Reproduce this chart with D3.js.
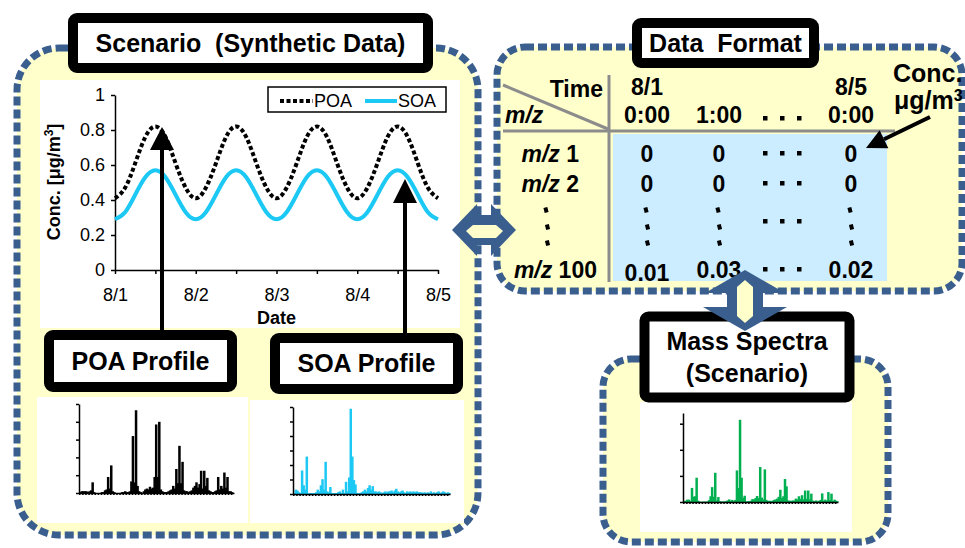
<!DOCTYPE html>
<html>
  <head>
    <meta charset="utf-8">
    <title>Scenario / data format / mass spectra</title>
    <script src="https://d3js.org/d3.v7.min.js" charset="utf-8"></script>
    <style>
      body { margin: 0; background: #fff; }
      svg { display: block; font-family: Arial, 'Liberation Sans', sans-serif; }
      .axis path, .axis line { stroke: black; stroke-width: 1.5; }
      .axis text { font-family: Arial, 'Liberation Sans', sans-serif; fill: black; }
    </style>
  </head>
  <body>
    <div id="chart"></div>
    <script>

    //********************
    // data
    //********************

    // synthetic time series, every 3 hours from 8/1 0:00 to 8/5 0:00
    var hours = [0,3,6,9,12,15,18,21,24,27,30,33,36,39,42,45,48,51,54,57,60,63,66,69,72,75,78,81,84,87,90,93,96];
    var poa = [0.41,0.47,0.61,0.76,0.82,0.76,0.61,0.47,
               0.41,0.47,0.61,0.76,0.82,0.76,0.61,0.47,
               0.41,0.47,0.61,0.76,0.82,0.76,0.61,0.47,
               0.41,0.47,0.61,0.76,0.82,0.76,0.61,0.47,0.41];
    var soa = [0.29,0.33,0.43,0.53,0.57,0.53,0.43,0.33,
               0.29,0.33,0.43,0.53,0.57,0.53,0.43,0.33,
               0.29,0.33,0.43,0.53,0.57,0.53,0.43,0.33,
               0.29,0.33,0.43,0.53,0.57,0.53,0.43,0.33,0.29];
    var dayLabels = ["8/1","8/2","8/3","8/4","8/5"];
    var yTicks = [0,0.2,0.4,0.6,0.8,1];

    // profiles, m/z 1..100 (relative to axis top)
    var poaProfile = [0.01,0.02,0.02,0.02,0.02,0.01,0.02,0.03,0.12,0.01,
                      0,0,0,0,0.01,0.01,0.03,0.04,0.18,0.05,
                      0.31,0.02,0.01,0,0,0,0,0.01,0.01,0.02,
                      0.01,0.01,0.02,0.13,0.64,0.12,0.93,0.08,0.02,0.01,
                      0,0.02,0.04,0.05,0.04,0.07,0.05,0.06,0.18,0.77,
                      0.18,0.80,0.04,0.02,0.01,0.01,0.01,0.02,0.03,0.04,
                      0.08,0.05,0.27,0.11,0.53,0.11,0.35,0.03,0.02,0.02,
                      0.01,0.02,0.03,0.06,0.08,0.12,0.06,0.10,0.25,0.05,
                      0.25,0.08,0.17,0.03,0.02,0.01,0.01,0.02,0.03,0.18,
                      0.04,0.08,0.05,0.23,0.06,0.18,0.02,0.02,0.01,0];
    var soaProfile = [0.01,0.05,0.04,0.02,0.01,0.27,0.10,0.05,0.43,0.01,
                      0.01,0.01,0.01,0.01,0.02,0.05,0.03,0.10,0.17,0.05,
                      0.37,0.03,0.02,0.08,0.01,0.01,0.01,0.01,0.02,0.03,
                      0.01,0.05,0.01,0.14,0.03,0.19,0.98,0.43,0.16,0.11,
                      0.01,0.01,0.01,0.02,0.03,0.05,0.03,0.07,0.10,0.05,
                      0.09,0.03,0.03,0.02,0.03,0.02,0.01,0.02,0.03,0.02,
                      0.03,0.03,0.04,0.02,0.04,0.06,0.03,0.02,0.03,0.04,
                      0.02,0.01,0.03,0.02,0.03,0.02,0.03,0.02,0.03,0.02,
                      0.02,0.02,0.01,0.02,0.01,0.02,0.01,0.03,0.01,0.02,
                      0.01,0.02,0.03,0.01,0.02,0.03,0.02,0.01,0.02,0.01];
    var mixProfile = [0.03,0.05,0.09,0.09,0.04,0.54,0.20,0.22,0.93,0.05,
                      0.01,0.01,0.01,0.02,0.01,0.02,0.07,0.22,0.57,0.20,
                      1.12,0.06,0.19,0.03,0.02,0.02,0.02,0.03,0.06,0.10,
                      0.04,0.08,0.03,0.08,1.21,0.54,3.15,0.93,0.16,0.24,
                      0.02,0.03,0.03,0.05,0.11,0.10,0.15,0.23,0.15,1.34,
                      0.17,0.10,1.25,0.08,0.04,0.05,0.03,0.05,0.08,0.10,
                      0.13,0.20,0.47,0.15,0.22,0.88,0.60,0.06,0.05,0.04,
                      0.06,0.05,0.13,0.10,0.22,0.12,0.26,0.10,0.44,0.12,
                      0.44,0.10,0.32,0.05,0.03,0.06,0.03,0.05,0.08,0.33,
                      0.05,0.09,0.05,0.38,0.07,0.32,0.04,0.09,0.05,0.02];

    // data format table
    var timeTop = ["8/1", "", "", "8/5"];
    var timeBottom = ["0:00", "1:00", "", "0:00"];
    var rowNames = ["1", "2", "", "100"];
    var cellValues = [["0","0","","0"], ["0","0","","0"], ["","","",""], ["0.01","0.03","","0.02"]];


    //********************
    // setup
    //********************

    var width = 965, height = 548;
    var panelFill = "#FFFFCC", panelStroke = "#3A5F8E";
    var cyan = "#1CC8F4", green = "#00B050";

    var svg = d3.select("#chart").append("svg").attr("width", width).attr("height", height);

    function panel(x, y, w, h, r) {
        svg.append("rect")
            .attr("x", x).attr("y", y).attr("width", w).attr("height", h).attr("rx", r)
            .attr("fill", panelFill)
            .attr("stroke", panelStroke)
            .attr("stroke-width", 7)
            .attr("stroke-dasharray", "9,4");
    }

    function whiteBox(x, y, w, h) {
        svg.append("rect").attr("x", x).attr("y", y).attr("width", w).attr("height", h).attr("fill", "white");
    }

    function titleBox(x, y, w, h, lines, baselines) {
        var g = svg.append("g");
        g.append("rect")
            .attr("x", x).attr("y", y).attr("width", w).attr("height", h).attr("rx", 4)
            .attr("fill", "white").attr("stroke", "black").attr("stroke-width", 10);
        lines.forEach(function(t, i) {
            g.append("text")
                .attr("x", x + w / 2).attr("y", baselines[i])
                .attr("text-anchor", "middle")
                .attr("font-weight", "bold")
                .attr("font-size", 25)
                .style("white-space", "pre")
                .text(t);
        });
    }

    function arrow(x1, y1, x2, y2, sw, headLen, headW, color) {
        var dx = x2 - x1, dy = y2 - y1, len = Math.sqrt(dx * dx + dy * dy);
        var ux = dx / len, uy = dy / len;
        var bx = x2 - ux * headLen, by = y2 - uy * headLen;
        svg.append("line").attr("x1", x1).attr("y1", y1).attr("x2", bx).attr("y2", by)
            .attr("stroke", color).attr("stroke-width", sw);
        svg.append("polygon")
            .attr("points", [[x2, y2], [bx - uy * headW / 2, by + ux * headW / 2], [bx + uy * headW / 2, by - ux * headW / 2]].join(" "))
            .attr("fill", color);
    }

    // mini bar chart of a mass spectrum
    function spectrum(vals, o) {
        var g = svg.append("g");
        var x = d3.scaleBand().domain(d3.range(1, vals.length + 1)).range([o.x0, o.x1]);
        var y = d3.scaleLinear().domain([0, o.max]).range([o.base, o.top]);
        g.selectAll("rect").data(vals).join("rect")
            .attr("x", (d, i) => x(i + 1))
            .attr("y", d => y(d))
            .attr("width", 2.5)
            .attr("height", d => o.base - y(d))
            .attr("fill", o.color);
        g.append("g").attr("class", "axis")
            .attr("transform", `translate(${o.x0},0)`)
            .call(d3.axisLeft(y).tickValues(o.ticks).tickSize(3).tickSizeOuter(0).tickFormat(""));
        g.append("g").attr("class", "axis")
            .attr("transform", `translate(0,${o.base})`)
            .call(d3.axisBottom(x).tickValues(d3.range(1, vals.length + 1, 2)).tickSize(2).tickSizeOuter(0).tickFormat(""));
        g.selectAll(".axis line").attr("stroke-width", 1);
    }


    //**************
    // panels
    //**************

    panel(17, 48, 461, 487, 42);
    panel(497, 47, 465, 244, 28);
    panel(603, 359, 285, 183, 28);

    whiteBox(40, 80, 420, 248);
    whiteBox(37, 397, 211, 126);
    whiteBox(250, 400, 214, 123);
    whiteBox(640, 402, 212, 130);


    //**************
    // line chart
    //**************

    var xScale = d3.scaleLinear().domain([0, 96]).range([115, 438]);
    var yScale = d3.scaleLinear().domain([0, 1]).range([270, 95]);

    var xAxis = svg.append("g").attr("class", "axis")
        .attr("transform", "translate(0,270)")
        .call(d3.axisBottom(xScale)
            .tickValues(d3.range(0, 97, 12))
            .tickSize(4).tickSizeOuter(0).tickPadding(14)
            .tickFormat(h => h % 24 === 0 ? dayLabels[h / 24] : ""));
    xAxis.selectAll("text").attr("font-size", 18);

    var yAxis = svg.append("g").attr("class", "axis")
        .attr("transform", "translate(115,0)")
        .call(d3.axisLeft(yScale)
            .tickValues(yTicks)
            .tickSize(4).tickSizeOuter(0).tickPadding(6)
            .tickFormat(d3.format(".1~f")));
    yAxis.selectAll("text").attr("font-size", 18);

    var ylab = svg.append("text")
        .attr("transform", "translate(60,182) rotate(-90)")
        .attr("text-anchor", "middle")
        .attr("font-weight", "bold")
        .attr("font-size", 18);
    ylab.append("tspan").text("Conc. [\u03bcg/m");
    ylab.append("tspan").attr("dy", -7).attr("font-size", 12).text("3");
    ylab.append("tspan").attr("dy", 7).text("]");

    svg.append("text")
        .attr("x", xScale(48)).attr("y", 324)
        .attr("text-anchor", "middle")
        .attr("font-weight", "bold")
        .attr("font-size", 18)
        .text("Date");

    var line = d3.line().curve(d3.curveNatural).x((d, i) => xScale(hours[i])).y(d => yScale(d));

    svg.append("path").datum(soa)
        .attr("fill", "none").attr("stroke", cyan).attr("stroke-width", 4)
        .attr("d", line);
    svg.append("path").datum(poa)
        .attr("fill", "none").attr("stroke", "black").attr("stroke-width", 4)
        .attr("stroke-dasharray", "4,2.5")
        .attr("d", line);

    // legend
    var legend = svg.append("g");
    legend.append("rect").attr("x", 268).attr("y", 87).attr("width", 178).attr("height", 25)
        .attr("fill", "white").attr("stroke", "black").attr("stroke-width", 1.5);
    legend.append("line").attr("x1", 280).attr("x2", 313).attr("y1", 101).attr("y2", 101)
        .attr("stroke", "black").attr("stroke-width", 4).attr("stroke-dasharray", "4,2.5");
    legend.append("text").attr("x", 314).attr("y", 107).attr("font-size", 18).text("POA");
    legend.append("line").attr("x1", 365).attr("x2", 397).attr("y1", 101).attr("y2", 101)
        .attr("stroke", cyan).attr("stroke-width", 4);
    legend.append("text").attr("x", 398).attr("y", 107).attr("font-size", 18).text("SOA");


    //**************
    // profiles
    //**************

    spectrum(poaProfile, {x0: 79, x1: 234, base: 493, top: 404, max: 1, ticks: [0, 0.2, 0.4, 0.6, 0.8, 1], color: "black"});
    spectrum(soaProfile, {x0: 293, x1: 450, base: 494, top: 407, max: 1, ticks: d3.range(0, 7).map(i => i / 6), color: cyan});
    spectrum(mixProfile, {x0: 683, x1: 838, base: 502, top: 413, max: 3.41, ticks: [0, 1, 2, 3], color: green});

    // arrows from profiles to the peaks
    arrow(162, 335, 162, 127, 4, 23, 24, "black");
    arrow(405, 338, 405, 179, 4, 24, 24, "black");


    //**************
    // title boxes
    //**************

    titleBox(73, 18, 355, 50, ["Scenario  (Synthetic Data)"], [52]);
    titleBox(49, 335, 183, 52, ["POA Profile"], [370]);
    titleBox(275, 338, 183, 51, ["SOA Profile"], [372]);
    titleBox(637, 23, 177, 40, ["Data  Format"], [52]);
    titleBox(644.5, 316.5, 205, 81, ["Mass Spectra", "(Scenario)"], [350, 382]);


    //**************
    // data format table
    //**************

    var colX = [647, 719, 782, 851];
    var rowY = [162, 192, 230, 278];

    svg.append("rect").attr("x", 613).attr("y", 134).attr("width", 274).attr("height", 147).attr("fill", "#CCECFF");

    var grid = svg.append("g").attr("stroke", "#8C8C8C").attr("stroke-width", 3);
    grid.append("line").attr("x1", 503).attr("y1", 85).attr("x2", 608).attr("y2", 129);
    grid.append("line").attr("x1", 609).attr("y1", 75).attr("x2", 609).attr("y2", 282);
    grid.append("line").attr("x1", 503).attr("y1", 131).attr("x2", 895).attr("y2", 131);

    var table = svg.append("g").attr("font-weight", "bold").attr("font-size", 23);

    function hdots(cx, cy) {
        [-17, 0, 17].forEach(o => table.append("rect")
            .attr("x", cx + o - 2).attr("y", cy - 2).attr("width", 4.5).attr("height", 4.5).attr("fill", "black"));
    }
    function vdots(cx, cy) {
        [-17, 0, 16].forEach((o, k) => table.append("rect")
            .attr("x", -2).attr("y", -2.5).attr("width", 4).attr("height", 5)
            .attr("transform", `translate(${cx + (k === 0 ? -1 : 0.5)},${cy + o - 3}) rotate(-15)`)
            .attr("fill", "black"));
    }

    table.append("text").attr("x", 603).attr("y", 97).attr("text-anchor", "end").text("Time");
    table.append("text").attr("x", 505).attr("y", 123).attr("font-style", "italic").text("m/z");

    colX.forEach(function(cx, j) {
        if (timeTop[j]) table.append("text").attr("x", cx).attr("y", 95).attr("text-anchor", "middle").text(timeTop[j]);
        if (timeBottom[j]) table.append("text").attr("x", cx).attr("y", 123).attr("text-anchor", "middle").text(timeBottom[j]);
        else hdots(cx, 118);
    });

    rowNames.forEach(function(name, i) {
        if (name) {
            var t = table.append("text").attr("x", name.length > 1 ? 597 : 579).attr("y", rowY[i]).attr("text-anchor", "end");
            t.append("tspan").attr("font-style", "italic").text("m/z");
            t.append("tspan").text(" " + name);
        } else {
            vdots(547, rowY[i]);
        }
        colX.forEach(function(cx, j) {
            var v = cellValues[i][j];
            if (v) table.append("text").attr("x", cx).attr("y", rowY[i] + (v.length > 1 && j === 0 ? 3 : 0)).attr("text-anchor", "middle").text(v);
            else if (j === 2) hdots(cx, rowY[i] - 9);
            else vdots(cx, rowY[i]);
        });
    });

    table.append("text").attr("x", 893).attr("y", 82).attr("font-size", 25).text("Conc.");
    var unit = table.append("text").attr("x", 894).attr("y", 109).attr("font-size", 25);
    unit.append("tspan").text("\u03bcg/m");
    unit.append("tspan").attr("dy", -8).attr("font-size", 16).text("3");

    arrow(930, 117, 866, 148, 4, 20, 20, "black");


    //**************
    // double arrows
    //**************

    var darrow = svg.append("g");
    darrow.append("polygon")
        .attr("points", "452,230 477,204 477,215 491,215 491,204 516,230 491,256 491,245 477,245 477,256")
        .attr("fill", panelStroke);
    darrow.append("polygon")
        .attr("points", "466,231 473,225 496,225 503,231 496,238 473,238")
        .attr("fill", panelFill);
    darrow.append("polygon")
        .attr("points", "745,270 785,293 763,293 763,307 787,307 745,331 703,307 727,307 727,293 705,293")
        .attr("fill", panelStroke);
    darrow.append("polygon")
        .attr("points", "745,280 753,287 753,316 745,323 737,316 737,287")
        .attr("fill", panelFill);

    </script>
  </body>
</html>
